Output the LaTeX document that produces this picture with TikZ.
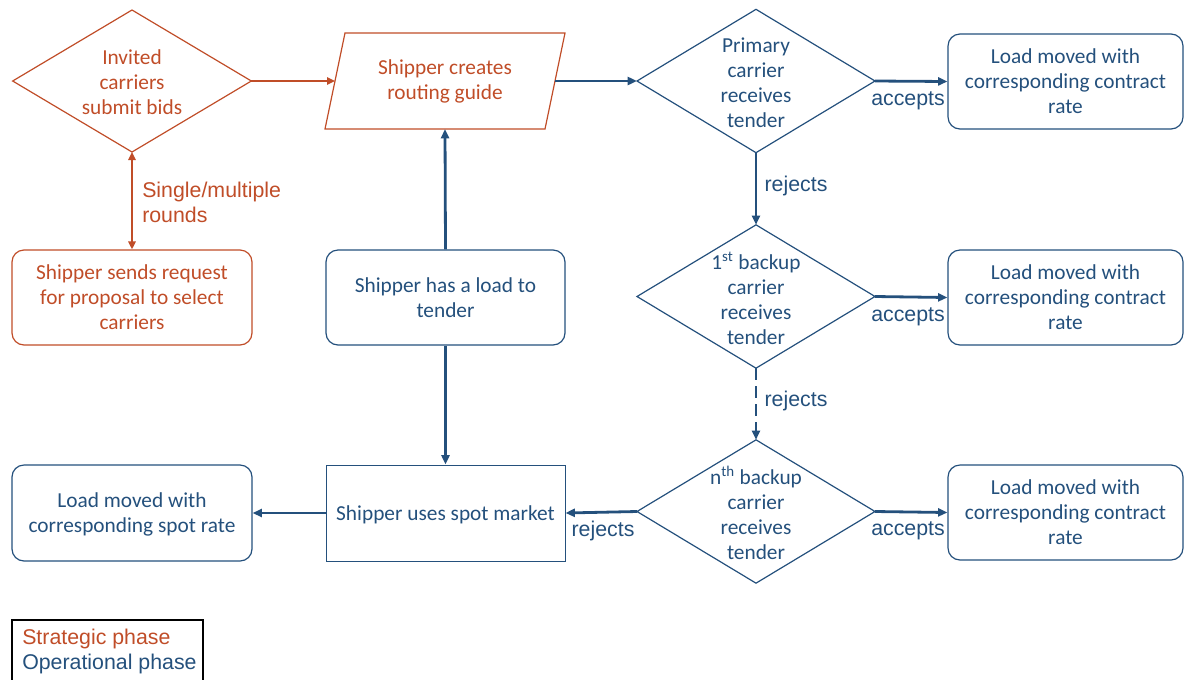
\documentclass[tikz,border=0pt]{standalone}
\usepackage{fontspec}
\setmainfont{Carlito}
\newfontfamily\arialf{Liberation Sans}
\usetikzlibrary{shapes.geometric,arrows.meta,calc}
\definecolor{org}{RGB}{192,77,40}
\definecolor{blu}{RGB}{36,80,124}
\begin{document}
\begin{tikzpicture}[x=0.75pt,y=-0.75pt,
  txt/.style={font=\fontsize{16}{18.8}\selectfont, align=center, inner sep=0pt},
  box/.style={draw, rounded corners=9pt, line width=0.9pt, minimum height=71.25pt, txt},
  sqbox/.style={draw, line width=0.75pt, minimum height=72pt, txt},
  dia/.style={diamond, draw, inner sep=0pt, outer sep=0pt, line width=0.9pt, minimum width=178.5pt, minimum height=107.5pt},
  lab/.style={font=\arialf\fontsize{16}{18.8}\selectfont, inner sep=0pt},
  conn/.style={line width=2.1pt, -{Triangle[length=7pt,width=6pt]}},
  oconn/.style={line width=1.6pt, draw=org, -{Triangle[length=6pt,width=5.5pt]}, org},
]
\useasboundingbox (0,0) rectangle (1184,679);
% ---------- strategic phase (orange) ----------
\node[dia, draw=org, minimum width=179pt, minimum height=106.5pt] (d0) at (132,81) {};
\node[txt, text=org] at (132,82.5) {Invited\\carriers\\submit bids};
\node[box, draw=org, text=org, minimum width=180pt] (rfp) at (132,297.5) {Shipper sends request\\for proposal to select\\carriers};
\node[inner sep=0pt, outer sep=0pt, minimum width=165pt, minimum height=72pt] (rg) at (445,81) {};
\draw[org, line width=0.9pt] ($(rg.south west)+(-10,0)$) -- ($(rg.north west)+(10,0)$) -- ($(rg.north east)+(10,0)$) -- ($(rg.south east)+(-10,0)$) -- cycle;
\node[txt, text=org] at (rg) {Shipper creates\\routing guide};
\draw[oconn, {Triangle[length=6pt,width=5.5pt]}-{Triangle[length=6pt,width=5.5pt]}] (rfp.north) -- (d0.south);
\node[lab, text=org, align=left, anchor=west] (rounds) at (142,202.5) {Single/multiple\\rounds};
\draw[oconn] (d0.east) -- (rg.west);
% ---------- operational phase (blue) ----------
\node[dia, draw=blu] (d1) at (756,81) {};
\node[txt, text=blu] at (756,82.5) {Primary\\carrier\\receives\\tender};
\node[dia, draw=blu] (d2) at (756,296.5) {};
\node[txt, text=blu] at (756,298.5) {1\textsuperscript{st} backup\\carrier\\receives\\tender};
\node[dia, draw=blu] (d3) at (756,511.5) {};
\node[txt, text=blu] at (756,513) {n\textsuperscript{th} backup\\carrier\\receives\\tender};
\node[box, draw=blu, text=blu, minimum width=176.25pt] (b1) at (1065.5,81.5) {Load moved with\\corresponding contract\\rate};
\node[box, draw=blu, text=blu, minimum width=176.25pt] (b2) at (1065.5,297.5) {Load moved with\\corresponding contract\\rate};
\node[box, draw=blu, text=blu, minimum width=176.25pt] (b3) at (1065.5,512.5) {Load moved with\\corresponding contract\\rate};
\node[box, draw=blu, text=blu, minimum width=179.25pt] (load) at (445.5,297.5) {Shipper has a load to\\tender};
\node[sqbox, draw=blu, text=blu, minimum width=179.25pt] (spot) at (445.5,513) {};
\node[txt, text=blu] at (445.5,515) {Shipper uses spot market};
\node[box, draw=blu, text=blu, minimum width=180pt, minimum height=72pt] (spotrate) at (132,513) {};
\node[txt, text=blu] at (132,514) {Load moved with\\corresponding spot rate};
\draw[conn, blu] (rg.east) -- (d1.west);
\draw[conn, blu] (d1.east) -- (b1.west);
\draw[conn, blu] (d2.east) -- (b2.west);
\draw[conn, blu] (d3.east) -- (b3.west);
\draw[conn, blu] (d1.south) -- (d2.north);
\draw[conn, blu, dash pattern=on 9pt off 4.5pt] (d2.south) -- (d3.north);
\draw[conn, blu] (d3.west) -- (spot.east);
\draw[conn, blu] (spot.west) -- (spotrate.east);
\draw[conn, blu] (load.north) -- (rg.south);
\draw[conn, blu] (load.south) -- (spot.north);
\node[lab, text=blu] (acc1) at (908,101) {accepts};
\node[lab, text=blu] (acc2) at (908,317) {accepts};
\node[lab, text=blu] (acc3) at (908,531) {accepts};
\node[lab, text=blu] (rej1) at (796,186) {rejects};
\node[lab, text=blu] (rej2) at (796,401) {rejects};
\node[lab, text=blu] (rej3) at (603,531) {rejects};
% ---------- legend ----------
\draw[line width=0.9pt] (12,690) -- (12,620) -- (203,620) -- (203,690);
\node[lab, text=org, anchor=west] (leg1) at (22,639) {Strategic phase};
\node[lab, text=blu, anchor=west] (leg2) at (22,664) {Operational phase};
\end{tikzpicture}
\end{document}
